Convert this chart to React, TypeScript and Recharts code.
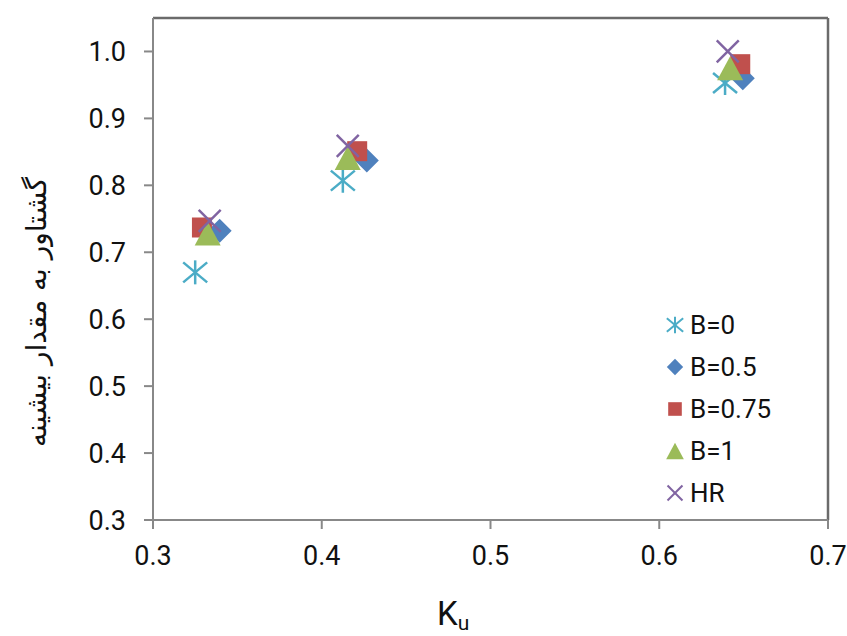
import { ScatterChart, Scatter, XAxis, YAxis, ReferenceLine } from 'recharts'

// Ku values and normalised moment for each series
const kuB0 = [0.325, 0.4125, 0.639]
const momB0 = [0.67, 0.807, 0.953]
const kuB05 = [0.3395, 0.4267, 0.6495]
const momB05 = [0.732, 0.837, 0.96]
const kuB075 = [0.329, 0.421, 0.648]
const momB075 = [0.737, 0.851, 0.981]
const kuB1 = [0.3324, 0.4154, 0.642]
const momB1 = [0.728, 0.841, 0.975]
const kuHR = [0.3336, 0.4154, 0.6406]
const momHR = [0.747, 0.859, 1.0]

const xTicks = [0.3, 0.4, 0.5, 0.6, 0.7]
const yTicks = [0.3, 0.4, 0.5, 0.6, 0.7, 0.8, 0.9, 1.0]

const seriesNames = ['B=0', 'B=0.5', 'B=0.75', 'B=1', 'HR']
const COLORS = ['#4bacc6', '#4f81bd', '#c0504d', '#9bbb59', '#8064a2']

const toPoints = (xs: number[], ys: number[]) => xs.map((x, i) => ({ x, y: ys[i] }))

const FONT = 'Roboto, "Liberation Sans", sans-serif'

function Marker({ kind, cx, cy, s = 1 }: { kind: number; cx: number; cy: number; s?: number }) {
  const c = COLORS[kind]
  if (kind === 0) {
    return (
      <g stroke={c} strokeWidth={2.5 * Math.max(s, 0.8)} strokeLinecap="butt">
        <line x1={cx} y1={cy - 12 * s} x2={cx} y2={cy + 12 * s} />
        <line x1={cx - 12 * s} y1={cy - 10 * s} x2={cx + 12 * s} y2={cy + 10 * s} />
        <line x1={cx - 12 * s} y1={cy + 10 * s} x2={cx + 12 * s} y2={cy - 10 * s} />
      </g>
    )
  }
  if (kind === 1) {
    const r = 12 * s
    return <polygon points={`${cx},${cy - r} ${cx + r},${cy} ${cx},${cy + r} ${cx - r},${cy}`} fill={c} />
  }
  if (kind === 2) {
    const h = 10 * s
    return <rect x={cx - h} y={cy - h} width={2 * h} height={2 * h} fill={c} />
  }
  if (kind === 3) {
    const w = 13 * s
    const h = 12 * s
    return <polygon points={`${cx},${cy - h} ${cx + w},${cy + h} ${cx - w},${cy + h}`} fill={c} />
  }
  const r = 11 * s
  return (
    <g stroke={c} strokeWidth={2.5 * Math.max(s, 0.8)}>
      <line x1={cx - r} y1={cy - r} x2={cx + r} y2={cy + r} />
      <line x1={cx - r} y1={cy + r} x2={cx + r} y2={cy - r} />
    </g>
  )
}

function LegendBox() {
  return (
    <div style={{ position: 'absolute', left: 662, top: 304, fontFamily: FONT, fontSize: 26, color: '#111' }}>
      {seriesNames.map((n, i) => (
        <div key={n} style={{ display: 'flex', alignItems: 'center', height: 42 }}>
          <svg width={26} height={26} style={{ marginRight: 2 }}>
            <Marker kind={i} cx={13} cy={13} s={0.68} />
          </svg>
          <span>{n}</span>
        </div>
      ))}
    </div>
  )
}

export default function App() {
  const data = [
    toPoints(kuB0, momB0),
    toPoints(kuB05, momB05),
    toPoints(kuB075, momB075),
    toPoints(kuB1, momB1),
    toPoints(kuHR, momHR),
  ]
  return (
    <div style={{ position: 'absolute', left: 0, top: 0, width: 847, height: 636, background: '#fff' }}>
      <ScatterChart width={847} height={636} margin={{ top: 18, right: 19, bottom: 0, left: 0 }}>
        <XAxis
          type="number"
          dataKey="x"
          domain={[0.3, 0.7]}
          ticks={xTicks}
          tickFormatter={(v: number) => v.toFixed(1)}
          stroke="#888"
          strokeWidth={2}
          tickSize={9}
          tickMargin={17}
          height={116}
          tick={{ fill: '#111', fontSize: 27, fontFamily: FONT }}
          label={{
            content: () => (
              <text x={437} y={625} fontFamily={FONT} fontSize={33} fill="#111">
                K
                <tspan dy={5} fontSize={21}>u</tspan>
              </text>
            ),
          }}
        />
        <YAxis
          type="number"
          dataKey="y"
          domain={[0.3, 1.05]}
          ticks={yTicks}
          tickFormatter={(v: number) => v.toFixed(1)}
          stroke="#888"
          strokeWidth={2}
          tickSize={9}
          tickMargin={18}
          width={153}
          allowDataOverflow
          tick={{ fill: '#111', fontSize: 27, fontFamily: FONT }}
          label={{
            content: () => (
              <text
                x={36}
                y={312}
                transform="rotate(-90 36 312)"
                textAnchor="middle"
                dominantBaseline="central"
                fontFamily='"DejaVu Sans", sans-serif'
                fontSize={28}
                fill="#111"
              >
                گشتاور به مقدار بیشینه
              </text>
            ),
          }}
        />
        <ReferenceLine y={1.05} stroke="#6b6b6b" strokeWidth={2.5} />
        <ReferenceLine x={0.7} stroke="#6b6b6b" strokeWidth={2.5} />
        {data.map((pts, i) => (
          <Scatter
            key={seriesNames[i]}
            name={seriesNames[i]}
            data={pts}
            isAnimationActive={false}
            shape={(p: any) => <Marker kind={i} cx={p.cx} cy={p.cy} />}
          />
        ))}
      </ScatterChart>
      <LegendBox />
    </div>
  )
}
